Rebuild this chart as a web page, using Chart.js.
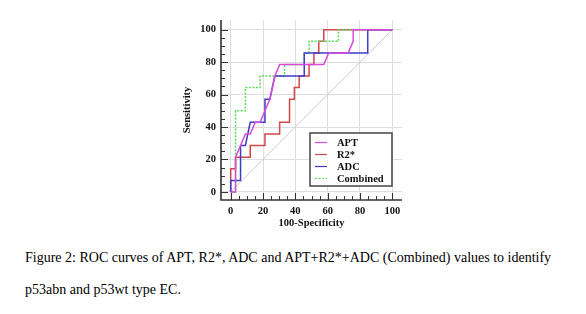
<!DOCTYPE html>
<html lang="en">
<head>
  <meta charset="UTF-8" />
  <title>ROC curves</title>
  <script src="https://cdn.jsdelivr.net/npm/chart.js"></script>
  <style>
    body {
      margin: 0;
      background: #fff;
      width: 586px;
      height: 314px;
      position: relative;
      overflow: hidden;
      font-family: 'Liberation Serif', 'Times New Roman', serif;
    }
    #wrap {
      position: absolute;
      left: 0;
      top: 0;
      width: 586px;
      height: 232px;
    }
    .caption {
      position: absolute;
      left: 25px;
      margin: 0;
      font-size: 14px;
      color: #000;
      white-space: nowrap;
    }
  </style>
</head>
<body>
  <div id="wrap"><canvas id="roc"></canvas></div>
  <p class="caption" style="top: 250px;">Figure 2: ROC curves of APT, R2*, ADC and APT+R2*+ADC (Combined) values to identify</p>
  <p class="caption" style="top: 282px;">p53abn and p53wt type EC.</p>

  <script>
    // curve points (100-Specificity, Sensitivity)
    const aptX = [0, 3, 3, 6.1, 9.1, 12.1, 15.2, 18.2, 24.2, 25.8, 27.3, 30.3, 57.6, 60.6, 72.7, 75.8, 75.8, 100];
    const aptY = [0, 0, 21.4, 28.6, 35.7, 35.7, 42.9, 42.9, 57.1, 64.3, 71.4, 78.6, 78.6, 85.7, 85.7, 92.9, 100, 100];

    const r2X = [0, 0, 3, 3, 12.1, 12.1, 21.2, 21.2, 30.3, 30.3, 36.4, 36.4, 39.4, 39.4, 42.4, 42.4, 48.5, 48.5, 51.5, 51.5, 54.5, 54.5, 57.6, 57.6, 100];
    const r2Y = [0, 14.3, 14.3, 21.4, 21.4, 28.6, 28.6, 35.7, 35.7, 42.9, 42.9, 57.1, 57.1, 64.3, 64.3, 71.4, 71.4, 78.6, 78.6, 85.7, 85.7, 92.9, 92.9, 100, 100];

    const adcX = [0, 0, 6.1, 6.1, 9.1, 12.1, 21.2, 21.2, 24.2, 27.3, 45.5, 45.5, 84.8, 84.8, 100];
    const adcY = [0, 7.1, 7.1, 28.6, 28.6, 42.9, 42.9, 57.1, 57.1, 71.4, 71.4, 85.7, 85.7, 100, 100];

    const combX = [0, 3, 3, 9.1, 9.1, 18.2, 18.2, 33.3, 33.3, 45.5, 45.5, 48.5, 48.5, 66.7, 66.7, 100];
    const combY = [0, 0, 50, 50, 64.3, 64.3, 71.4, 71.4, 78.6, 78.6, 85.7, 85.7, 92.9, 92.9, 100, 100];

    const diagX = [0, 100];
    const diagY = [0, 100];

    const seriesNames = ['APT', 'R2*', 'ADC', 'Combined'];
    const seriesColors = ['#d84ad8', '#d04848', '#3c3cc8', '#5ad85a'];
    const axisTicks = [0, 20, 40, 60, 80, 100];

    function pts(xs, ys) {
      return xs.map((x, i) => ({ x: x, y: ys[i] }));
    }

    const fontBold = { family: "'Liberation Serif', 'Times New Roman', serif", size: 10.5, weight: 'bold' };

    // axis lines, inward major/minor ticks and the boxed legend
    const frame = {
      id: 'frame',
      afterDatasetsDraw(chart) {
        const ctx = chart.ctx;
        const area = chart.chartArea;
        const xs = chart.scales.x;
        const ys = chart.scales.y;
        ctx.save();
        ctx.strokeStyle = '#333';
        ctx.lineWidth = 1.6;
        ctx.beginPath();
        ctx.moveTo(area.left, area.top);
        ctx.lineTo(area.left, area.bottom);
        ctx.lineTo(area.right, area.bottom);
        ctx.stroke();

        ctx.lineWidth = 1;
        for (let v = 0; v <= 100; v += 5) {
          const len = v % 20 === 0 ? 7 : 4;
          const px = Math.round(xs.getPixelForValue(v)) + 0.5;
          ctx.beginPath();
          ctx.moveTo(px, area.bottom);
          ctx.lineTo(px, area.bottom - len);
          ctx.stroke();
          const py = Math.round(ys.getPixelForValue(v)) + 0.5;
          ctx.beginPath();
          ctx.moveTo(area.left, py);
          ctx.lineTo(area.left + len, py);
          ctx.stroke();
        }

        // legend
        const right = area.right - 10;
        const bottom = area.bottom - 14;
        const w = 82, h = 53;
        const left = right - w, top = bottom - h;
        ctx.fillStyle = '#fff';
        ctx.fillRect(left, top, w, h);
        ctx.strokeStyle = '#444';
        ctx.lineWidth = 1.5;
        ctx.strokeRect(left, top, w, h);
        ctx.font = 'bold 10.5px "Liberation Serif", "Times New Roman", serif';
        ctx.textBaseline = 'middle';
        ctx.textAlign = 'left';
        seriesNames.forEach((name, i) => {
          const y = top + 9.5 + i * 12;
          ctx.strokeStyle = seriesColors[i];
          ctx.lineWidth = 1.2;
          ctx.setLineDash(i === 3 ? [2, 1.5] : []);
          ctx.beginPath();
          ctx.moveTo(left + 5, y);
          ctx.lineTo(left + 17, y);
          ctx.stroke();
          ctx.setLineDash([]);
          ctx.fillStyle = '#111';
          ctx.fillText(name, left + 27, y + 0.5);
        });
        ctx.restore();
      }
    };

    const lineSet = (label, data, color, dash) => ({
      label: label,
      data: data,
      borderColor: color,
      backgroundColor: color,
      borderWidth: 1.5,
      borderDash: dash || [],
      pointRadius: 0,
      showLine: true,
      fill: false,
      tension: 0
    });

    new Chart(document.getElementById('roc'), {
      type: 'scatter',
      data: {
        datasets: [
          lineSet('APT', pts(aptX, aptY), seriesColors[0]),
          lineSet('ADC', pts(adcX, adcY), seriesColors[2]),
          lineSet('Combined', pts(combX, combY), seriesColors[3], [2, 1.5]),
          lineSet('R2*', pts(r2X, r2Y), seriesColors[1]),
          Object.assign(lineSet('ref', pts(diagX, diagY), '#c9c9c9'), { borderWidth: 1 })
        ]
      },
      options: {
        responsive: true,
        maintainAspectRatio: false,
        animation: false,
        layout: { padding: { left: 181, top: 20, right: 184, bottom: 0 } },
        plugins: {
          legend: { display: false },
          tooltip: { enabled: false }
        },
        scales: {
          x: {
            type: 'linear',
            min: -6,
            max: 106,
            afterBuildTicks: (s) => { s.ticks = axisTicks.map(v => ({ value: v })); },
            afterFit: (s) => { s.height = 32; },
            grid: { color: '#dedede', lineWidth: 1, drawTicks: false },
            border: { display: false },
            ticks: { color: '#111', font: fontBold, padding: 5, maxRotation: 0 },
            title: { display: true, text: '100-Specificity', color: '#111', font: fontBold, padding: { top: 0, bottom: 2 } }
          },
          y: {
            type: 'linear',
            min: -5,
            max: 106,
            afterBuildTicks: (s) => { s.ticks = axisTicks.map(v => ({ value: v })); },
            afterFit: (s) => { s.width = 40; },
            grid: { color: '#dedede', lineWidth: 1, drawTicks: false },
            border: { display: false },
            ticks: { color: '#111', font: fontBold, padding: 5 },
            title: { display: true, text: 'Sensitivity', color: '#111', font: fontBold, padding: { top: 0, bottom: 0 } }
          }
        }
      },
      plugins: [frame]
    });
  </script>
</body>
</html>
